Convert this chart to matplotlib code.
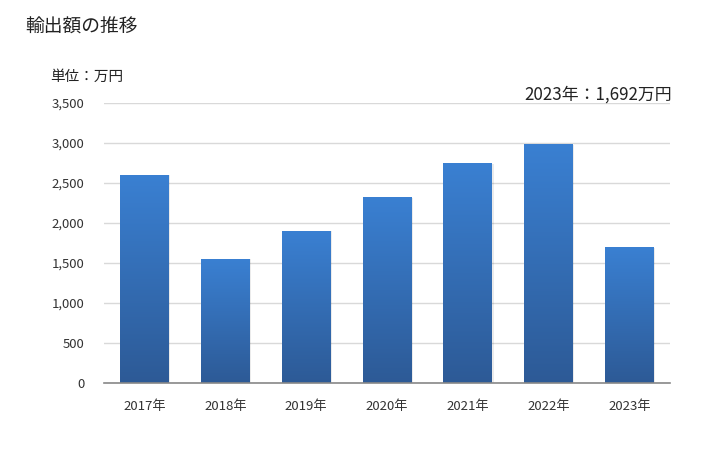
import numpy as np
import matplotlib
matplotlib.use("Agg")
import matplotlib.pyplot as plt
from matplotlib.colors import LinearSegmentedColormap
from matplotlib.ticker import FuncFormatter

plt.rcParams['font.family'] = ['Noto Sans CJK JP', 'DejaVu Sans']

years = ["2017年", "2018年", "2019年", "2020年", "2021年", "2022年", "2023年"]
values = [2600, 1545, 1900, 2315, 2740, 2980, 1692]
y_ticks = [0, 500, 1000, 1500, 2000, 2500, 3000, 3500]

title = "輸出額の推移"
unit_label = "単位：万円"
note = "2023年：1,692万円"

fig = plt.figure(figsize=(7.28, 4.5), dpi=100)
ax = fig.add_axes([0.143, 0.149, 0.777, 0.622])

x = np.arange(len(years))
bars = ax.bar(x, values, width=0.6, color="none", zorder=3)

grad = LinearSegmentedColormap.from_list("g", ["#2d5a96", "#3a80d2"])
g = np.linspace(0, 1, 256).reshape(-1, 1)
for b in bars:
    x0, y0 = b.get_x(), b.get_y()
    w, h = b.get_width(), b.get_height()
    # soft shadow
    ax.bar(x0 + w / 2 + 0.02, h, width=w, bottom=y0, color="#000000",
           alpha=0.08, zorder=2)
    ax.imshow(g, cmap=grad, origin="lower", aspect="auto",
              extent=[x0, x0 + w, y0, y0 + h], zorder=3)

ax.set_xlim(-0.5, len(years) - 0.5)
ax.set_ylim(0, 3500)
ax.set_yticks(y_ticks)
ax.yaxis.set_major_formatter(FuncFormatter(lambda v, p: f"{int(v):,}"))
ax.set_xticks(x)
ax.set_xticklabels(years)
ax.grid(axis="y", color="#d9d9d9", linewidth=1, zorder=0)
ax.set_axisbelow(True)

for s in ["top", "right", "left"]:
    ax.spines[s].set_visible(False)
ax.spines["bottom"].set_color("#888888")
ax.spines["bottom"].set_linewidth(1.2)
ax.spines["bottom"].set_zorder(4)
ax.tick_params(axis="both", length=0, labelsize=9.5, colors="#333333")
ax.tick_params(axis="x", pad=12)
ax.tick_params(axis="y", pad=14)

fig.text(25 / 728, 1 - 27 / 450, title, fontsize=13.5, va="center",
         ha="left", color="#222222")
fig.text(50 / 728, 1 - 77 / 450, unit_label, fontsize=10.5, va="center",
         ha="left", color="#222222")
fig.text(672 / 728, 1 - 95 / 450, note, fontsize=12.2, va="center",
         ha="right", color="#222222")

fig.savefig("out.png", dpi=100)
